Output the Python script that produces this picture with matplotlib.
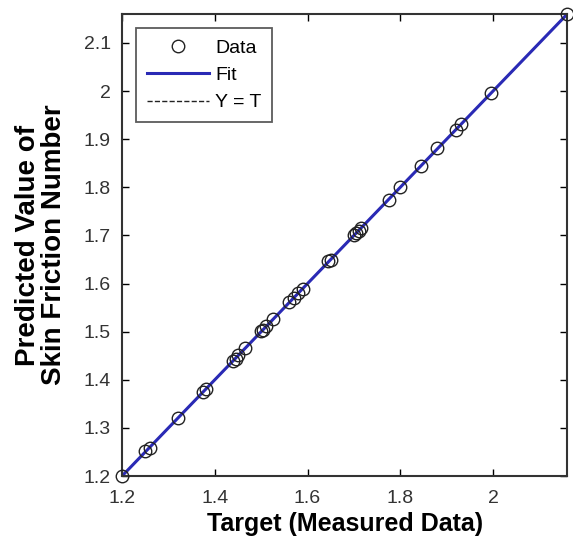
import matplotlib
matplotlib.use("Agg")
import matplotlib.pyplot as plt
import numpy as np

plt.rcParams['font.family'] = ['Liberation Sans', 'DejaVu Sans']

target = [1.20, 1.25, 1.26, 1.32, 1.375, 1.38, 1.44, 1.445, 1.45, 1.465,
          1.50, 1.505, 1.51, 1.525, 1.56, 1.57, 1.58, 1.59, 1.645, 1.65,
          1.70, 1.705, 1.71, 1.715, 1.775, 1.80, 1.845, 1.88, 1.92, 1.93,
          1.995, 2.16]
predicted = [1.20, 1.251, 1.259, 1.32, 1.374, 1.381, 1.44, 1.444, 1.451, 1.466,
             1.501, 1.504, 1.511, 1.526, 1.561, 1.569, 1.58, 1.589, 1.646, 1.649,
             1.70, 1.706, 1.709, 1.715, 1.774, 1.80, 1.845, 1.881, 1.919, 1.931,
             1.996, 2.16]
fit_x = [1.20, 2.16]
fit_y = [1.20, 2.16]

xticks = [1.2, 1.4, 1.6, 1.8, 2.0]
xtick_labels = ['1.2', '1.4', '1.6', '1.8', '2']
yticks = [1.2, 1.3, 1.4, 1.5, 1.6, 1.7, 1.8, 1.9, 2.0, 2.1]
ytick_labels = ['1.2', '1.3', '1.4', '1.5', '1.6', '1.7', '1.8', '1.9', '2', '2.1']

fig = plt.figure(figsize=(5.73, 5.5), dpi=100)
ax = fig.add_axes([0.213, 0.1345, 0.777, 0.84])

ax.plot(target, predicted, 'o', mfc='none', mec='#222222', ms=9, mew=1.0,
        label='Data', clip_on=False, zorder=3)
ax.plot(fit_x, fit_y, '-', color='#2a2ab5', lw=2.2, label='Fit', zorder=2)
ax.plot(fit_x, fit_y, '--', color='#222222', lw=1.0, label='Y = T', zorder=1)

ax.set_xlim(1.2, 2.16)
ax.set_ylim(1.2, 2.16)
ax.set_xticks(xticks)
ax.set_xticklabels(xtick_labels)
ax.set_yticks(yticks)
ax.set_yticklabels(ytick_labels)
ax.tick_params(direction='in', top=True, right=True, length=5, width=1.0,
               labelsize=14, labelcolor='#333333')
ax.tick_params(axis='x', pad=10)
ax.tick_params(axis='y', pad=8)
for s in ax.spines.values():
    s.set_linewidth(1.5)
    s.set_color('#333333')

ax.set_xlabel('Target (Measured Data)', fontsize=18, fontweight='bold', labelpad=4)
ax.set_ylabel('Predicted Value of\nSkin Friction Number', fontsize=20, fontweight='bold',
              labelpad=12, linespacing=1.0)

leg = ax.legend(loc='upper left', fontsize=14, frameon=True, fancybox=False,
                edgecolor='#333333', borderpad=0.55, handlelength=3.2,
                labelspacing=0.5, handletextpad=0.3, bbox_to_anchor=(0.01, 0.99))
leg.get_frame().set_linewidth(1.3)

fig.savefig('out.png', dpi=100)
